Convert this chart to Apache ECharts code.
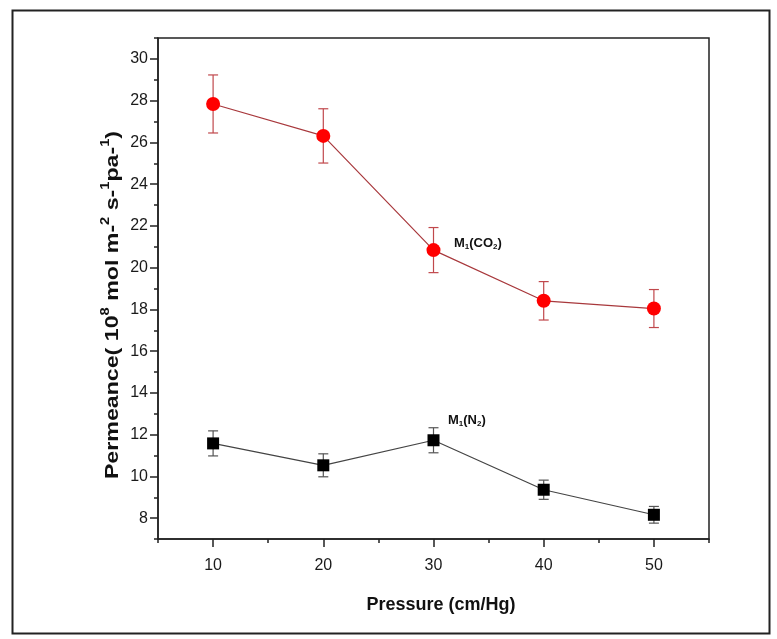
<!DOCTYPE html>
<html>
<head>
<meta charset="utf-8">
<script src="https://cdn.jsdelivr.net/npm/echarts@6/dist/echarts.min.js"></script>
<style>
html,body{margin:0;padding:0;background:#fff;}
#chart{width:777px;height:639px;}
</style>
</head>
<body>
<div id="chart"></div>
<script>
// ---- data ----
var pressure = [10, 20, 30, 40, 50];
var co2 = [27.84, 26.31, 20.84, 18.41, 18.04];
var co2Err = [1.39, 1.30, 1.08, 0.92, 0.91];
var n2 = [11.58, 10.53, 11.73, 9.36, 8.16];
var n2Err = [0.60, 0.55, 0.60, 0.46, 0.40];
var xMajor = [10, 20, 30, 40, 50];
var xMinor = [5, 15, 25, 35, 45, 55];
var yMajor = [8, 10, 12, 14, 16, 18, 20, 22, 24, 26, 28, 30];
var yMinor = [7, 9, 11, 13, 15, 17, 19, 21, 23, 25, 27, 29, 31];

function pts(ys) { return pressure.map(function (x, i) { return [x, ys[i]]; }); }
function errs(ys, es) { return pressure.map(function (x, i) { return [x, ys[i] - es[i], ys[i] + es[i]]; }); }

function errRender(color) {
  return function (params, api) {
    var x = api.value(0);
    var lo = api.coord([x, api.value(1)]);
    var hi = api.coord([x, api.value(2)]);
    var w = 5;
    var st = { stroke: color, lineWidth: 1.2 };
    return {
      type: 'group',
      children: [
        { type: 'line', shape: { x1: lo[0], y1: lo[1], x2: hi[0], y2: hi[1] }, style: st },
        { type: 'line', shape: { x1: lo[0] - w, y1: lo[1], x2: lo[0] + w, y2: lo[1] }, style: st },
        { type: 'line', shape: { x1: hi[0] - w, y1: hi[1], x2: hi[0] + w, y2: hi[1] }, style: st }
      ]
    };
  };
}

var font = 'Liberation Sans, Arial, sans-serif';
var axisCol = '#222';

var chart = echarts.init(document.getElementById('chart'), null, { renderer: 'canvas' });
chart.setOption({
  animation: false,
  backgroundColor: '#fff',
  grid: { left: 158, top: 38, right: 68, bottom: 100, show: true, borderColor: axisCol, borderWidth: 1.5, backgroundColor: 'transparent' },
  xAxis: [
    {
      type: 'value', min: 5, max: 55, position: 'bottom',
      axisLine: { show: true, onZero: false, lineStyle: { color: axisCol, width: 1.5 } },
      axisTick: { show: true, customValues: xMajor, length: 8, lineStyle: { color: axisCol, width: 1.5 } },
      axisLabel: { show: true, customValues: xMajor, color: '#1a1a1a', fontSize: 16, fontFamily: font, margin: 19 },
      splitLine: { show: false }
    },
    {
      type: 'value', min: 5, max: 55, position: 'bottom',
      axisLine: { show: false, onZero: false },
      axisTick: { show: true, customValues: xMinor, length: 4, lineStyle: { color: axisCol, width: 1.5 } },
      axisLabel: { show: false },
      splitLine: { show: false }
    }
  ],
  yAxis: [
    {
      type: 'value', min: 7, max: 31, position: 'left',
      axisLine: { show: true, onZero: false, lineStyle: { color: axisCol, width: 1.5 } },
      axisTick: { show: true, customValues: yMajor, length: 8, lineStyle: { color: axisCol, width: 1.5 } },
      axisLabel: { show: true, customValues: yMajor, color: '#1a1a1a', fontSize: 16, fontFamily: font, margin: 10 },
      splitLine: { show: false }
    },
    {
      type: 'value', min: 7, max: 31, position: 'left',
      axisLine: { show: false, onZero: false },
      axisTick: { show: true, customValues: yMinor, length: 4, lineStyle: { color: axisCol, width: 1.5 } },
      axisLabel: { show: false },
      splitLine: { show: false }
    }
  ],
  series: [
    {
      type: 'custom', name: 'co2err', xAxisIndex: 0, yAxisIndex: 0,
      renderItem: errRender('#c0484c'), data: errs(co2, co2Err), z: 2,
      encode: { x: 0, y: [1, 2] }
    },
    {
      type: 'line', name: 'M1(CO2)', xAxisIndex: 0, yAxisIndex: 0, data: pts(co2),
      symbol: 'circle', symbolSize: 14,
      itemStyle: { color: '#ff0000', borderWidth: 0 },
      lineStyle: { color: '#a8383c', width: 1.2 }, z: 3
    },
    {
      type: 'custom', name: 'n2err', xAxisIndex: 0, yAxisIndex: 0,
      renderItem: errRender('#555'), data: errs(n2, n2Err), z: 2,
      encode: { x: 0, y: [1, 2] }
    },
    {
      type: 'line', name: 'M1(N2)', xAxisIndex: 0, yAxisIndex: 0, data: pts(n2),
      symbol: 'rect', symbolSize: 12,
      itemStyle: { color: '#000', borderWidth: 0 },
      lineStyle: { color: '#444', width: 1.2 }, z: 3
    }
  ],
  graphic: [
    {
      type: 'rect', left: 10, top: 8, z: -1,
      shape: { width: 757, height: 623 },
      style: { fill: 'none', stroke: '#222', lineWidth: 2 }
    },
    {
      type: 'text', x: 111, y: 305, rotation: Math.PI / 2, scaleX: 1.22,
      style: {
        text: '{b|Permeance( 10}{s|8}{b| mol m-}{s|2}{b| s-}{s|1}{b|pa-}{s|1}{b|)}',
        align: 'center', verticalAlign: 'middle',
        rich: {
          b: { fontSize: 19, fontWeight: 'bold', fontFamily: font, fill: '#111', verticalAlign: 'bottom', lineHeight: 22 },
          s: { fontSize: 12, fontWeight: 'bold', fontFamily: font, fill: '#111', verticalAlign: 'top', lineHeight: 22 }
        }
      }
    },
    {
      type: 'text', x: 441, y: 605,
      style: {
        text: 'Pressure (cm/Hg)', align: 'center', verticalAlign: 'middle',
        fontSize: 18, fontWeight: 'bold', fontFamily: font, fill: '#111'
      }
    },
    {
      type: 'text', x: 454, y: 243,
      style: {
        text: '{b|M}{s|1}{b|(CO}{s|2}{b|)}', align: 'left', verticalAlign: 'middle',
        rich: {
          b: { fontSize: 13, fontWeight: 'bold', fontFamily: font, fill: '#111', lineHeight: 16 },
          s: { fontSize: 8, fontWeight: 'bold', fontFamily: font, fill: '#111', lineHeight: 16, padding: [8, 0, 0, 0] }
        }
      }
    },
    {
      type: 'text', x: 448, y: 420,
      style: {
        text: '{b|M}{s|1}{b|(N}{s|2}{b|)}', align: 'left', verticalAlign: 'middle',
        rich: {
          b: { fontSize: 13, fontWeight: 'bold', fontFamily: font, fill: '#111', lineHeight: 16 },
          s: { fontSize: 8, fontWeight: 'bold', fontFamily: font, fill: '#111', lineHeight: 16, padding: [8, 0, 0, 0] }
        }
      }
    }
  ]
});
</script>
</body>
</html>
